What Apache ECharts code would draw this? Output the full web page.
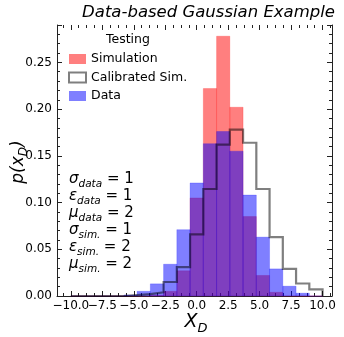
<!DOCTYPE html>
<html>
<head>
<meta charset="utf-8">
<script src="https://cdn.jsdelivr.net/npm/echarts@6/dist/echarts.min.js"></script>
<style>
  html, body { margin: 0; padding: 0; background: #fff; }
  #chart { width: 344px; height: 337px; }
</style>
</head>
<body>
<div id="chart"></div>
<script>
// 直方图的分箱边界 (19 bins from -10 to 10)
var binEdges = [-10, -8.947, -7.895, -6.842, -5.789, -4.737, -3.684, -2.632, -1.579, -0.526,
                0.526, 1.579, 2.632, 3.684, 4.737, 5.789, 6.842, 7.895, 8.947, 10];
// 各分箱的密度值
var simValues   = [0, 0, 0, 0, 0, 0, 0.001, 0.005, 0.027, 0.105, 0.222, 0.278, 0.202, 0.085, 0.022, 0.004, 0, 0, 0];
var dataValues  = [0, 0, 0, 0, 0.001, 0.005, 0.013, 0.034, 0.071, 0.121, 0.163, 0.176, 0.155, 0.108, 0.063, 0.029, 0.0105, 0.003, 0];
var calibValues = [0, 0, 0, 0, 0.001, 0.002, 0.004, 0.015, 0.031, 0.066, 0.1145, 0.162, 0.178, 0.164, 0.1145, 0.063, 0.029, 0.0134, 0.007];

// 刻度 (labels split in two sets so none get hidden)
var xMajorTicks = [-10, -7.5, -5, -2.5, 0, 2.5, 5, 7.5, 10];
var xLabelsA = [-10, -5, 0, 5, 10];
var xLabelsB = [-7.5, -2.5, 2.5, 7.5];
var xMinorTicks = [-10.625, -9.375, -8.75, -8.125, -6.875, -6.25, -5.625, -4.375, -3.75, -3.125,
                   -1.875, -1.25, -0.625, 0.625, 1.25, 1.875, 3.125, 3.75, 4.375, 5.625, 6.25, 6.875,
                   8.125, 8.75, 9.375, 10.625];
var yMajorTicks = [0, 0.05, 0.1, 0.15, 0.2, 0.25];

// 文本注释
var paramSymbols = ["σ", "ε", "μ", "σ", "ε", "μ"];
var paramSubs = ["data", "data", "data", "sim.", "sim.", "sim."];
var paramValues = [1, 1, 2, 1, 2, 2];

var FONT = "DejaVu Sans";
var xMin = -11.1, xMax = 10.75;

function barData(vals) {
  var out = [];
  for (var i = 0; i < vals.length; i++) {
    out.push([binEdges[i], binEdges[i + 1], vals[i]]);
  }
  return out;
}

function stepData(vals) {
  var pts = [[binEdges[0], 0]];
  for (var i = 0; i < vals.length; i++) {
    pts.push([binEdges[i], vals[i]]);
    pts.push([binEdges[i + 1], vals[i]]);
  }
  pts.push([binEdges[binEdges.length - 1], 0]);
  return pts;
}

function histSeries(name, vals, color) {
  return {
    name: name,
    type: "custom",
    xAxisIndex: 0,
    yAxisIndex: 0,
    itemStyle: { color: color },
    encode: { x: [0, 1], y: 2 },
    data: barData(vals),
    renderItem: function (params, api) {
      var p0 = api.coord([api.value(0), api.value(2)]);
      var p1 = api.coord([api.value(1), 0]);
      return {
        type: "rect",
        shape: { x: p0[0], y: p0[1], width: p1[0] - p0[0], height: p1[1] - p0[1] },
        style: { fill: color, stroke: color, lineWidth: 0.4 }
      };
    }
  };
}

function minus(v) {
  return String(v).replace("-", "\u2212");
}

var axisLineStyle = { color: "#222", width: 1 };

function xAxisDef(pos, ticks, len, labels) {
  return {
    type: "value", position: pos, min: xMin, max: xMax,
    axisLine: { show: pos === "bottom" && len === 5, onZero: false, lineStyle: axisLineStyle },
    axisTick: { show: true, inside: true, length: len, customValues: ticks, lineStyle: { color: "#222", width: 1 } },
    axisLabel: labels ? {
      show: true, customValues: labels, margin: 4, interval: 0,
      fontFamily: FONT, fontSize: 12, color: "#000",
      formatter: function (v) { return minus(v.toFixed(1)); }
    } : { show: false },
    splitLine: { show: false }
  };
}

function yAxisDef(pos, withLabel) {
  return {
    type: "value", position: pos, min: 0, max: 0.29, interval: 0.05,
    axisLine: { show: true, onZero: false, lineStyle: axisLineStyle },
    axisTick: { show: true, inside: true, length: 5, lineStyle: { color: "#222", width: 1 } },
    minorTick: { show: true, splitNumber: 5, length: 3, lineStyle: { color: "#222", width: 1 } },
    axisLabel: withLabel ? {
      show: true, customValues: yMajorTicks, margin: 5, fontFamily: FONT, fontSize: 12, color: "#000",
      formatter: function (v) { return v.toFixed(2); }
    } : { show: false },
    splitLine: { show: false }
  };
}

var graphics = [];
for (var i = 0; i < paramSymbols.length; i++) {
  graphics.push({
    type: "text",
    left: 69,
    top: 172 + i * 17,
    style: {
      text: "{m|" + paramSymbols[i] + "}{s|" + paramSubs[i] + "}{e| = " + paramValues[i] + "}",
      rich: {
        m: { fontFamily: FONT, fontSize: 15, fontStyle: "italic", fill: "#000", verticalAlign: "bottom", padding: [0, 0, 3, 0] },
        s: { fontFamily: FONT, fontSize: 10.5, fontStyle: "italic", fill: "#000", verticalAlign: "bottom" },
        e: { fontFamily: FONT, fontSize: 15, fill: "#000", verticalAlign: "bottom", padding: [0, 0, 3, 0] }
      }
    }
  });
}
// 标题
graphics.push({
  type: "text", right: 9, top: 4,
  style: { text: "Data-based Gaussian Example", fontFamily: FONT, fontSize: 16.5, fontStyle: "italic", fill: "#000" }
});
// 图例标题
graphics.push({
  type: "text", left: 106, top: 33,
  style: { text: "Testing", fontFamily: FONT, fontSize: 12.5, fill: "#000" }
});
// y 轴名称
graphics.push({
  type: "text", x: 20, y: 162, rotation: Math.PI / 2,
  style: {
    text: "{m|p(x}{s|D}{m|)}", align: "center", verticalAlign: "middle",
    rich: {
      m: { fontFamily: FONT, fontSize: 17, fontStyle: "italic", fill: "#000", verticalAlign: "bottom", padding: [0, 0, 3, 0] },
      s: { fontFamily: FONT, fontSize: 12, fontStyle: "italic", fill: "#000", verticalAlign: "bottom" }
    }
  }
});
// x 轴名称
graphics.push({
  type: "text", x: 196, y: 324,
  style: {
    text: "{m|X}{s|D}", align: "center", verticalAlign: "middle",
    rich: {
      m: { fontFamily: FONT, fontSize: 19, fontStyle: "italic", fill: "#000", verticalAlign: "bottom", padding: [0, 0, 3, 0] },
      s: { fontFamily: FONT, fontSize: 13, fontStyle: "italic", fill: "#000", verticalAlign: "bottom" }
    }
  }
});

var chart = echarts.init(document.getElementById("chart"), null, { renderer: "canvas" });
var option = {
  animation: false,
  backgroundColor: "#fff",
  grid: { left: 57, right: 12, top: 25, bottom: 41, containLabel: false },
  legend: {
    orient: "vertical",
    left: 68, top: 52, padding: 0,
    itemWidth: 17, itemHeight: 10, itemGap: 4.5,
    textStyle: { fontFamily: FONT, fontSize: 12.5, color: "#000", lineHeight: 14 },
    data: [
      { name: "Simulation", icon: "rect", itemStyle: { color: "rgba(255,0,0,0.5)" } },
      { name: "Calibrated Sim.", icon: "rect", itemStyle: { color: "#fff", borderColor: "rgba(0,0,0,0.5)", borderWidth: 2 } },
      { name: "Data", icon: "rect", itemStyle: { color: "rgba(0,0,255,0.5)" } }
    ]
  },
  xAxis: [
    xAxisDef("bottom", xMajorTicks, 5, xLabelsA),
    xAxisDef("bottom", xMinorTicks, 3, xLabelsB),
    xAxisDef("top", xMajorTicks, 5, null),
    xAxisDef("top", xMinorTicks, 3, null)
  ],
  yAxis: [
    yAxisDef("left", true),
    yAxisDef("right", false)
  ],
  series: [
    histSeries("Simulation", simValues, "rgba(255,0,0,0.5)"),
    histSeries("Data", dataValues, "rgba(0,0,255,0.5)"),
    {
      name: "Calibrated Sim.",
      type: "line",
      xAxisIndex: 0,
      yAxisIndex: 0,
      showSymbol: false,
      symbol: "none",
      lineStyle: { color: "rgba(0,0,0,0.5)", width: 2.2, join: "miter" },
      itemStyle: { color: "rgba(0,0,0,0.5)" },
      data: stepData(calibValues)
    }
  ],
  graphic: graphics
};
chart.setOption(option);
</script>
</body>
</html>
